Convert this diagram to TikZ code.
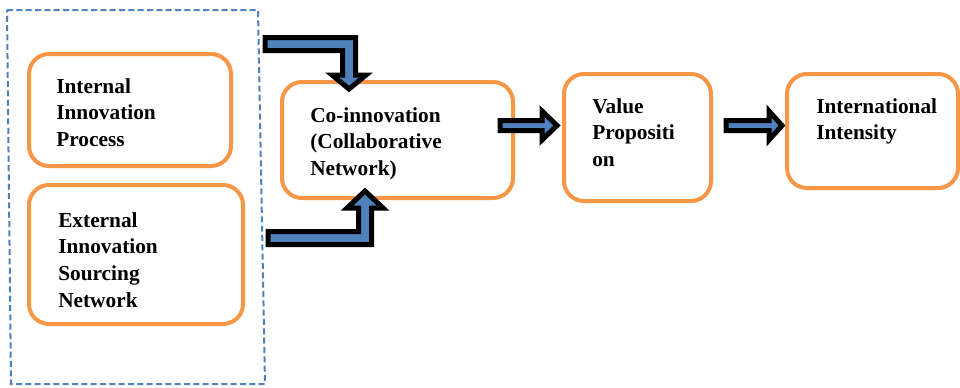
\documentclass[tikz,border=0pt]{standalone}
\usepackage{fontspec}
\setmainfont{Liberation Serif}
\usetikzlibrary{fit}
\definecolor{borange}{HTML}{F79646}
\definecolor{bblue}{HTML}{4F81BD}
\tikzset{
  obox/.style={draw=borange, line width=3pt, rounded corners=15pt, inner sep=0pt},
  dbox/.style={draw=bblue, line width=1.5pt, dash pattern=on 4.5pt off 2.5pt},
  barrow/.style={fill=bblue, draw=black, line width=3.75pt, line join=miter},
  btext/.style={anchor=base west, inner sep=0pt, font=\bfseries\fontsize{16}{20}\selectfont}
}
\newcommand{\lines}[1]{\parbox[t]{6cm}{\raggedright #1}}
\begin{document}
\begin{tikzpicture}[x=0.75pt, y=-0.75pt]
\useasboundingbox (0,0) rectangle (960,387);
% dashed group
\draw[dbox] (7,10) -- (258,10) -- (265,384) -- (11,384) -- cycle;
% boxes
\node[obox, fit={(29,54) (231,166)}] (b1) {};
\node[obox, fit={(29,185) (243,324)}] (b2) {};
\node[obox, fit={(282,82) (513,198)}] (b3) {};
\node[obox, fit={(564,74) (711,201)}] (b4) {};
\node[obox, fit={(787,74) (958,188)}] (b5) {};
% texts
\node[btext] (t1) at (56,93) {\lines{Internal\\Innovation\\Process}};
\node[btext] (t2) at (58,227) {\lines{External\\Innovation\\Sourcing\\Network}};
\node[btext] (t3) at (310,122) {\lines{Co-innovation\\(Collaborative\\Network)}};
\node[btext] (t4) at (592,113) {\lines{Value\\Propositi\\on}};
\node[btext] (t5) at (816,113) {\lines{International\\Intensity}};
% block arrows
\draw[barrow] (265,37.5) -- (355.5,37.5) -- (355.5,75) -- (366,75) -- (349,89)
  -- (332,75) -- (342.5,75) -- (342.5,50.5) -- (265,50.5) -- cycle;
\draw[barrow] (268,231.5) -- (358.5,231.5) -- (358.5,208) -- (347,208) -- (365,191)
  -- (383,208) -- (371.5,208) -- (371.5,244.5) -- (268,244.5) -- cycle;
\draw[barrow] (500,120.5) -- (542,120.5) -- (542,111) -- (557,125.5) -- (542,140)
  -- (542,130.5) -- (500,130.5) -- cycle;
\draw[barrow] (726,120.5) -- (769,120.5) -- (769,111) -- (782,125.5) -- (769,140)
  -- (769,130.5) -- (726,130.5) -- cycle;
\end{tikzpicture}
\end{document}
